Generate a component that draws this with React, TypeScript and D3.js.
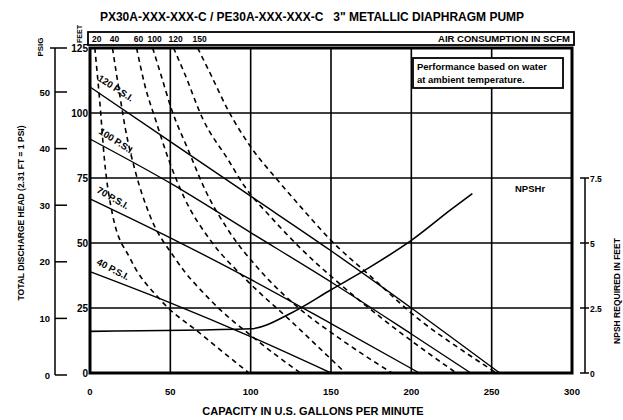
import React from "react";
import * as d3 from "d3";

// capacity (US gpm) / head (ft) / psi / npsh tick values
const gpmTicks = [0, 50, 100, 150, 200, 250, 300];
const feetTicks = [0, 25, 50, 75, 100, 125];
const feetGrid = [25, 50, 75, 100];
const psiTicks = [0, 10, 20, 30, 40, 50];
const npshTicks = [0, 2.5, 5, 7.5];
const npshTickLabels = ["0", "2.5", "5", "7.5"];

// head-capacity curves per air inlet pressure, [gpm, ft]
const pressureLabels = ["120 P.S.I.", "100 P.S.I.", "70 P.S.I.", "40 P.S.I."];
const head120 = [[0, 110], [50, 89], [100, 68], [150, 47], [200, 25], [255, 0]];
const head100 = [[0, 90], [50, 73], [100, 54], [150, 35], [200, 15], [237, 0]];
const head70 = [[0, 67], [50, 52], [100, 36], [150, 19], [205, 0]];
const head40 = [[0, 39], [50, 27], [100, 14], [150, 0]];
const labelAt = [[4.4, 112.7], [5, 92.3], [3.8, 69.6], [3.8, 41.9]];
const labelAngle = [33, 33, 30, 28];

// air consumption curves (scfm), [gpm, ft]
const scfmLabels = ["20", "40", "60", "100", "120", "150"];
const scfm1 = [[3, 125], [6, 105], [9, 82], [14, 61], [25, 44], [44, 28], [69, 15], [99, 0]];
const scfm2 = [[14, 125], [18, 109], [22, 94], [28, 78], [37, 61], [53, 44], [75, 28], [103, 13], [131, 0]];
const scfm3 = [[29, 125], [34, 111], [41, 97], [49, 82], [59, 67], [75, 51], [97, 36], [125, 20], [159, 0]];
const scfm4 = [[39, 125], [44, 115], [51, 101], [61, 86], [72, 70], [86, 55], [105, 40], [128, 26], [156, 13], [188, 0]];
const scfm5 = [[52, 125], [59, 115], [70, 98], [86, 82], [96, 72], [114, 59], [131, 48], [156, 34], [188, 18], [228, 0]];
const scfm6 = [[67, 125], [75, 115], [86, 101], [100, 87], [117, 74], [131, 64], [150, 51], [175, 37], [206, 20], [231, 9], [253, 0]];

// npsh required, [gpm, ft]
const npshCurve = [[0, 1.6], [100, 1.7], [125, 2.3], [150, 3.2], [175, 4.1], [200, 5.1], [225, 6.3], [238, 6.9]];

const font = "'Liberation Sans', Arial, sans-serif";

export default function App() {
  const width = 623, height = 420;
  const left = 90, right = 572, top = 48, bottom = 373;

  const x = d3.scaleLinear().domain([0, 300]).range([left, right]);
  const y = d3.scaleLinear().domain([0, 125]).range([bottom, top]);
  const yPsi = d3.scaleLinear().domain([0, 50]).range([375, 92]);
  const yNpsh = d3.scaleLinear().domain([0, 7.5]).range([bottom, 178]);

  const line = d3.line<number[]>()
    .x(d => x(d[0]))
    .y(d => y(d[1]))
    .curve(d3.curveMonotoneX);
  const npshLine = d3.line<number[]>()
    .x(d => x(d[0]))
    .y(d => yNpsh(d[1]))
    .curve(d3.curveMonotoneX);

  const heads = [head120, head100, head70, head40];
  const scfm = [scfm1, scfm2, scfm3, scfm4, scfm5, scfm6];

  return (
    <svg width={width} height={height}
      style={{position: "absolute", left: 0, top: 0, background: "#fff"}}
      fontFamily={font} fontWeight="bold">
      <rect width={width} height={height} fill="#fff" />

      {/* title */}
      <text x={312} y={21} fontSize={12} textAnchor="middle">
        PX30A-XXX-XXX-C / PE30A-XXX-XXX-C {"\u00a0\u00a0"}3" METALLIC DIAPHRAGM PUMP
      </text>

      {/* air consumption bar */}
      <rect x={88} y={32} width={486} height={13} fill="#fff" stroke="#000" strokeWidth={1.8} />
      {scfm.map((c, i) => (
        <text key={i} x={x(c[0][0]) + 2} y={42} fontSize={8.5} textAnchor="middle">{scfmLabels[i]}</text>
      ))}
      <text x={570} y={42} fontSize={9.5} textAnchor="end">AIR CONSUMPTION IN SCFM</text>

      {/* grid */}
      {gpmTicks.slice(1, -1).map(t => (
        <line key={t} x1={x(t)} x2={x(t)} y1={top} y2={bottom} stroke="#000" strokeWidth={1.6} />
      ))}
      {feetGrid.map(t => (
        <line key={t} x1={left} x2={right} y1={y(t)} y2={y(t)} stroke="#000" strokeWidth={1.6} />
      ))}

      {/* air consumption curves */}
      {scfm.map((c, i) => (
        <path key={i} d={line(c) || ""} fill="none" stroke="#000" strokeWidth={1.6} strokeDasharray="5,4" />
      ))}

      {/* head curves */}
      {heads.map((c, i) => (
        <path key={i} d={line(c) || ""} fill="none" stroke="#000" strokeWidth={1.4} />
      ))}
      {pressureLabels.map((s, i) => (
        <text key={s} fontSize={9.5}
          transform={`translate(${x(labelAt[i][0])},${y(labelAt[i][1])}) rotate(${labelAngle[i]})`}>{s}</text>
      ))}

      {/* npsh curve */}
      <path d={npshLine(npshCurve) || ""} fill="none" stroke="#000" strokeWidth={1.6} />
      <text x={515} y={192} fontSize={9.5}>NPSHr</text>

      {/* info box */}
      <rect x={413} y={58} width={150} height={30} fill="#fff" stroke="#000" strokeWidth={1.8} />
      <text x={417} y={70} fontSize={9.5}>Performance based on water</text>
      <text x={417} y={83} fontSize={9.5}>at ambient temperature.</text>

      {/* frame */}
      <rect x={left} y={top} width={right - left} height={bottom - top} fill="none" stroke="#000" strokeWidth={3} />

      {/* feet labels */}
      {feetTicks.map(t => (
        <text key={t} x={88} y={y(t) + 4} fontSize={10} textAnchor="end">{t}</text>
      ))}
      <text transform={`translate(82,34) rotate(-90)`} fontSize={7} textAnchor="middle">FEET</text>

      {/* psi axis */}
      <line x1={55} x2={55} y1={top} y2={375} stroke="#000" strokeWidth={1.5} />
      <line x1={50} x2={67} y1={top} y2={top} stroke="#000" strokeWidth={1.5} />
      {psiTicks.map(t => (
        <g key={t}>
          <line x1={55} x2={67} y1={yPsi(t)} y2={yPsi(t)} stroke="#000" strokeWidth={1.5} />
          <text x={50} y={yPsi(t) + 3.5} fontSize={9.5} textAnchor="end">{t}</text>
        </g>
      ))}
      <text transform={`translate(43,47) rotate(-90)`} fontSize={8} textAnchor="middle">PSIG</text>
      <text transform={`translate(24,213) rotate(-90)`} fontSize={8.5} textAnchor="middle">
        TOTAL DISCHARGE HEAD (2.31 FT = 1 PSI)
      </text>

      {/* npsh axis */}
      <line x1={585} x2={585} y1={178} y2={bottom} stroke="#000" strokeWidth={1.5} />
      {npshTicks.map((t, i) => (
        <g key={t}>
          <line x1={580} x2={589} y1={yNpsh(t)} y2={yNpsh(t)} stroke="#000" strokeWidth={1.5} />
          <text x={590} y={yNpsh(t) + 3.5} fontSize={8.5}>{npshTickLabels[i]}</text>
        </g>
      ))}
      <text transform={`translate(620,291) rotate(-90)`} fontSize={8.5} textAnchor="middle">NPSH REQUIRED IN FEET</text>

      {/* x axis */}
      {gpmTicks.map(t => (
        <text key={t} x={x(t)} y={395} fontSize={9.5} textAnchor="middle">{t}</text>
      ))}
      <text x={313} y={415} fontSize={11} textAnchor="middle">CAPACITY IN U.S. GALLONS PER MINUTE</text>
    </svg>
  );
}
